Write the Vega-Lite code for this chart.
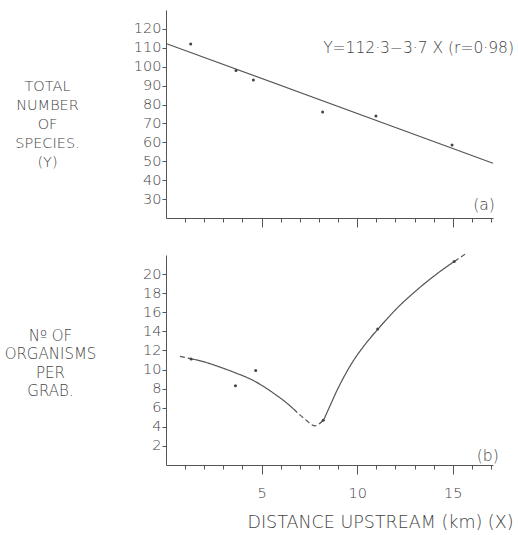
{
  "$schema": "https://vega.github.io/schema/vega-lite/v6.json",
  "background": "white",
  "padding": {"top": 10, "left": 4, "right": 0, "bottom": 5},
  "spacing": 23,
  "datasets": {
    "reg": [{"x": 0, "y": 112.3}, {"x": 17.1, "y": 49.0}],
    "top_pts": [
      {"x": 1.29, "y": 112}, {"x": 3.66, "y": 98}, {"x": 4.57, "y": 93},
      {"x": 8.19, "y": 76}, {"x": 10.98, "y": 74}, {"x": 14.96, "y": 58.6}
    ],
    "top_text": [
      {"x": 18.2, "y": 110, "t": "Y=112·3−3·7 X (r=0·98)"},
      {"x": 17.2, "y": 26.8, "t": "(a)"}
    ],
    "bot_pts": [
      {"x": 1.31, "y": 11.1}, {"x": 3.63, "y": 8.3}, {"x": 4.69, "y": 9.9},
      {"x": 8.22, "y": 4.7}, {"x": 11.07, "y": 14.25}, {"x": 15.07, "y": 21.33}
    ],
    "curve": [
      {"seg": "s1", "style": "dashed", "x": 0.73, "y": 11.38},
      {"seg": "s1", "style": "dashed", "x": 1.29, "y": 11.14},
      {"seg": "s2", "style": "solid", "x": 1.29, "y": 11.14},
      {"seg": "s2", "style": "solid", "x": 2.0, "y": 10.8},
      {"seg": "s2", "style": "solid", "x": 2.83, "y": 10.25},
      {"seg": "s2", "style": "solid", "x": 3.7, "y": 9.6},
      {"seg": "s2", "style": "solid", "x": 4.57, "y": 8.85},
      {"seg": "s2", "style": "solid", "x": 5.2, "y": 8.1},
      {"seg": "s2", "style": "solid", "x": 5.8, "y": 7.27},
      {"seg": "s2", "style": "solid", "x": 6.25, "y": 6.6},
      {"seg": "s2", "style": "solid", "x": 6.67, "y": 5.87},
      {"seg": "s3", "style": "dashed", "x": 6.67, "y": 5.87},
      {"seg": "s3", "style": "dashed", "x": 7.0, "y": 5.25},
      {"seg": "s3", "style": "dashed", "x": 7.37, "y": 4.63},
      {"seg": "s3", "style": "dashed", "x": 7.6, "y": 4.25},
      {"seg": "s3", "style": "dashed", "x": 7.8, "y": 4.1},
      {"seg": "s3", "style": "dashed", "x": 8.0, "y": 4.3},
      {"seg": "s3", "style": "dashed", "x": 8.24, "y": 4.7},
      {"seg": "s4", "style": "solid", "x": 8.24, "y": 4.7},
      {"seg": "s4", "style": "solid", "x": 8.6, "y": 6.3},
      {"seg": "s4", "style": "solid", "x": 8.94, "y": 7.8},
      {"seg": "s4", "style": "solid", "x": 9.35, "y": 9.4},
      {"seg": "s4", "style": "solid", "x": 9.81, "y": 10.96},
      {"seg": "s4", "style": "solid", "x": 10.4, "y": 12.6},
      {"seg": "s4", "style": "solid", "x": 11.08, "y": 14.23},
      {"seg": "s4", "style": "solid", "x": 11.6, "y": 15.4},
      {"seg": "s4", "style": "solid", "x": 12.25, "y": 16.76},
      {"seg": "s4", "style": "solid", "x": 12.9, "y": 17.95},
      {"seg": "s4", "style": "solid", "x": 13.65, "y": 19.22},
      {"seg": "s4", "style": "solid", "x": 14.35, "y": 20.3},
      {"seg": "s4", "style": "solid", "x": 15.08, "y": 21.33},
      {"seg": "s5", "style": "dashed", "x": 15.08, "y": 21.33},
      {"seg": "s5", "style": "dashed", "x": 15.65, "y": 22.1}
    ],
    "bot_text": [{"x": 17.4, "y": 0.9, "t": "(b)"}]
  },
  "vconcat": [
    {
      "width": 327,
      "height": 208,
      "layer": [
        {
          "data": {"name": "reg"},
          "mark": {"type": "line", "color": "#555", "strokeWidth": 1.1},
          "encoding": {
            "x": {
              "field": "x", "type": "quantitative",
              "scale": {"domain": [0, 17.1], "nice": false, "zero": false},
              "axis": {
                "values": [1,2,3,4,5,6,7,8,9,10,11,12,13,14,15,16,17],
                "tickCount": 40,
                "format": "d",
                "labels": false,
                "tickSize": {"condition": {"test": "datum.value % 5 === 0", "value": 9}, "value": 4},
                "title": null
              }
            },
            "y": {
              "field": "y", "type": "quantitative",
              "scale": {"domain": [20, 130], "nice": false, "zero": false},
              "axis": {
                "values": [30,40,50,60,70,80,90,100,110,120],
                "tickCount": 40,
                "format": "d",
                "tickSize": 4,
                "labelPadding": 1,
                "title": ["TOTAL", "NUMBER", "OF", "SPECIES.", "(Y)"],
                "titleAngle": 0,
                "titleAlign": "center",
                "titleBaseline": "alphabetic",
                "titleX": -119,
                "titleY": 80,
                "titleLineHeight": 19,
                "titleFontSize": 14.5
              }
            }
          }
        },
        {
          "data": {"name": "top_pts"},
          "mark": {"type": "circle", "size": 9, "color": "#444", "opacity": 1},
          "encoding": {
            "x": {"field": "x", "type": "quantitative"},
            "y": {"field": "y", "type": "quantitative"}
          }
        },
        {
          "data": {"name": "top_text"},
          "mark": {"type": "text", "align": "right", "baseline": "middle", "font": "DejaVu Sans", "fontWeight": 200, "fontSize": 15.5, "color": "#444"},
          "encoding": {
            "x": {"field": "x", "type": "quantitative"},
            "y": {"field": "y", "type": "quantitative"},
            "text": {"field": "t"}
          }
        }
      ]
    },
    {
      "width": 327,
      "height": 210,
      "layer": [
        {
          "data": {"name": "curve"},
          "mark": {"type": "line", "color": "#555", "strokeWidth": 1.2, "interpolate": "monotone"},
          "encoding": {
            "x": {
              "field": "x", "type": "quantitative",
              "scale": {"domain": [0, 17.1], "nice": false, "zero": false},
              "axis": {
                "values": [1,2,3,4,5,6,7,8,9,10,11,12,13,14,15,16,17],
                "tickCount": 40,
                "format": "d",
                "labelExpr": "datum.value % 5 === 0 ? datum.label : ''",
                "labelPadding": 12,
                "tickSize": {"condition": {"test": "datum.value % 5 === 0", "value": 9}, "value": 4},
                "title": "DISTANCE UPSTREAM (km) (X)",
                "titleFontSize": 17.5,
                "titleAlign": "right",
                "titleBaseline": "alphabetic",
                "titleX": 347,
                "titleY": 62
              }
            },
            "y": {
              "field": "y", "type": "quantitative",
              "scale": {"domain": [0, 22], "nice": false, "zero": false},
              "axis": {
                "values": [2,4,6,8,10,12,14,16,18,20],
                "tickCount": 40,
                "format": "d",
                "tickSize": 4,
                "labelPadding": 1,
                "title": ["Nº OF", "ORGANISMS", "PER", "GRAB."],
                "titleAngle": 0,
                "titleAlign": "center",
                "titleBaseline": "alphabetic",
                "titleX": -116,
                "titleY": 85,
                "titleLineHeight": 18.5,
                "titleFontSize": 15
              }
            },
            "detail": {"field": "seg"},
            "strokeDash": {
              "field": "style", "type": "nominal",
              "scale": {"domain": ["solid", "dashed"], "range": [[1, 0], [5, 3]]},
              "legend": null
            }
          }
        },
        {
          "data": {"name": "bot_pts"},
          "mark": {"type": "circle", "size": 9, "color": "#444", "opacity": 1},
          "encoding": {
            "x": {"field": "x", "type": "quantitative"},
            "y": {"field": "y", "type": "quantitative"}
          }
        },
        {
          "data": {"name": "bot_text"},
          "mark": {"type": "text", "align": "right", "baseline": "middle", "font": "DejaVu Sans", "fontWeight": 200, "fontSize": 15.5, "color": "#444"},
          "encoding": {
            "x": {"field": "x", "type": "quantitative"},
            "y": {"field": "y", "type": "quantitative"},
            "text": {"field": "t"}
          }
        }
      ]
    }
  ],
  "config": {
    "view": {"stroke": null},
    "axis": {
      "grid": false,
      "labelOverlap": false,
      "domainColor": "#555",
      "tickColor": "#555",
      "labelFont": "DejaVu Sans",
      "labelFontWeight": 200,
      "labelFontSize": 14.5,
      "labelColor": "#444",
      "titleFont": "DejaVu Sans",
      "titleFontWeight": 200,
      "titleColor": "#444"
    }
  }
}
